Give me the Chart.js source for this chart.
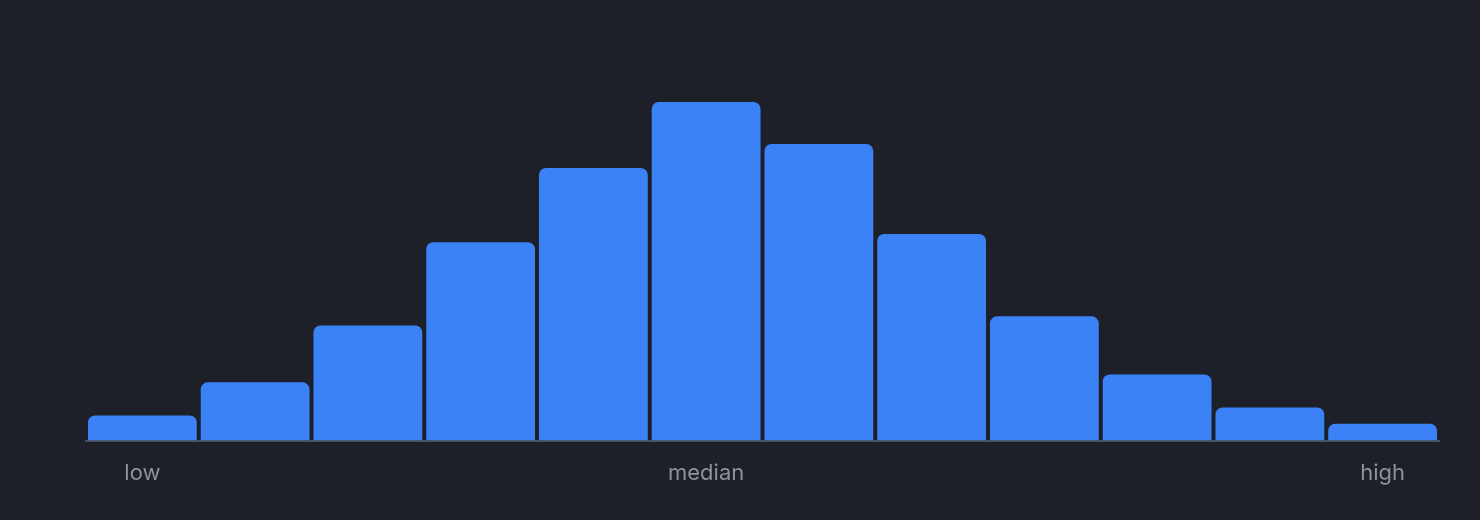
<!DOCTYPE html>
<html>
<head>
<meta charset="utf-8">
<script src="https://cdn.jsdelivr.net/npm/chart.js@4"></script>
<style>
  body { margin: 0; background: #1e2029; }
  #wrap { width: 1480px; height: 520px; }
</style>
</head>
<body>
<div id="wrap"><canvas id="histChart" width="1480" height="520"></canvas></div>
<script>
// bins from low to high, only three of them get a label
const binLabels = ["low", "", "", "", "", "median", "", "", "", "", "", "high"];
const binCounts = [7.4, 17.2, 34, 58.6, 80.5, 100, 87.6, 61, 36.7, 19.5, 9.8, 5];

const ctx = document.getElementById("histChart").getContext("2d");
new Chart(ctx, {
  type: "bar",
  data: {
    labels: binLabels,
    datasets: [
      {
        data: binCounts,
        backgroundColor: "#3b82f6",
        borderRadius: { topLeft: 7, topRight: 7 },
        borderSkipped: "bottom",
        barPercentage: 0.965,
        categoryPercentage: 1,
      },
    ],
  },
  options: {
    responsive: false,
    animation: false,
    layout: {
      padding: { left: 86, right: 41, top: 102, bottom: 21 },
    },
    plugins: {
      legend: { display: false },
      tooltip: { enabled: false },
    },
    scales: {
      x: {
        grid: { display: false },
        border: { display: true, color: "#4a4f5c", width: 2 },
        ticks: {
          color: "#8d919b",
          font: { family: "Inter", size: 22 },
          autoSkip: false,
          maxRotation: 0,
          padding: 12,
        },
      },
      y: {
        display: false,
        min: 0,
        max: 100,
      },
    },
  },
});
</script>
</body>
</html>
